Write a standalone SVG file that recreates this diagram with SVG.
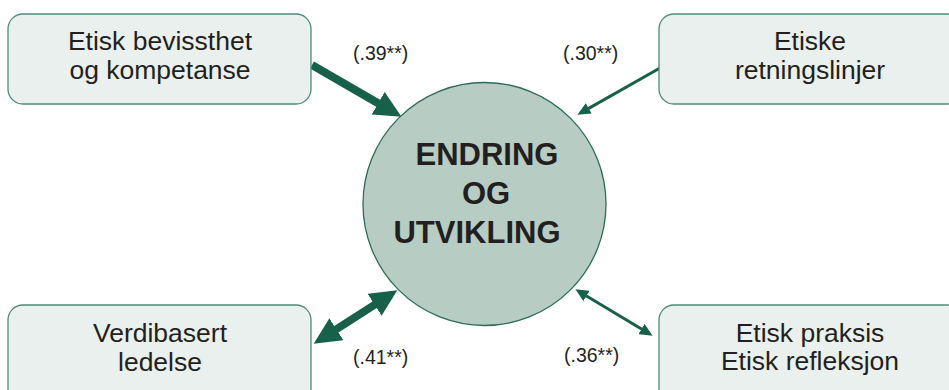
<svg xmlns="http://www.w3.org/2000/svg" width="949" height="390" viewBox="0 0 949 390">
  <style>
    .box { fill: #e9f0ed; stroke: #4f8b76; stroke-width: 1.3; }
    .hub { fill: #b7ccc3; stroke: #2c6c58; stroke-width: 1.3; }
    .lbl { font-family: "Liberation Sans", Arial, sans-serif; font-size: 26.5px; fill: #231f20; text-anchor: middle; }
    .hubtxt { font-family: "Liberation Sans", Arial, sans-serif; font-size: 31px; font-weight: bold; fill: #231f20; text-anchor: middle; }
    .coef { font-family: "Liberation Sans", Arial, sans-serif; font-size: 19.5px; fill: #231f20; }
    .thick { stroke: #17604a; stroke-width: 8; fill: none; }
    .thin { stroke: #17604a; stroke-width: 3; fill: none; }
  </style>
  <defs>
    <!-- heads start at the line end and point outward -->
    <marker id="headBig" markerUnits="userSpaceOnUse" markerWidth="27" markerHeight="26" viewBox="0 0 27 26" refX="0.5" refY="13" orient="auto-start-reverse">
      <path d="M0,0 L27,13 L0,26 z" fill="#17604a"/>
    </marker>
    <marker id="headSmall" markerUnits="userSpaceOnUse" markerWidth="13" markerHeight="12" viewBox="0 0 13 12" refX="0.5" refY="6" orient="auto-start-reverse">
      <path d="M0,0 L13,6 L0,12 z" fill="#17604a"/>
    </marker>
  </defs>

  <!-- connectors -->
  <g id="connectors">
    <line class="thick" x1="312" y1="65" x2="378.6" y2="103.5" marker-end="url(#headBig)"/>
    <line class="thin" x1="660" y1="68" x2="588.3" y2="108.6" marker-end="url(#headSmall)"/>
    <line class="thick" x1="336" y1="329.5" x2="375" y2="304.5" marker-start="url(#headBig)" marker-end="url(#headBig)"/>
    <line class="thin" x1="586.1" y1="295.7" x2="641.9" y2="329.3" marker-start="url(#headSmall)" marker-end="url(#headSmall)"/>
  </g>

  <!-- coefficient labels -->
  <g id="coefficients">
    <text class="coef" x="353" y="60">(.39**)</text>
    <text class="coef" x="563" y="60">(.30**)</text>
    <text class="coef" x="353" y="364">(.41**)</text>
    <text class="coef" x="564" y="362">(.36**)</text>
  </g>

  <g id="node-bevissthet">
    <rect class="box" x="8" y="14" width="303" height="90" rx="15"/>
    <text class="lbl" x="160" y="50">Etisk bevissthet</text>
    <text class="lbl" x="160" y="79">og kompetanse</text>
  </g>

  <g id="node-retningslinjer">
    <rect class="box" x="659" y="14" width="303" height="90" rx="15"/>
    <text class="lbl" x="810" y="50">Etiske</text>
    <text class="lbl" x="810" y="79">retningslinjer</text>
  </g>

  <g id="node-ledelse">
    <rect class="box" x="8" y="305" width="303" height="100" rx="15"/>
    <text class="lbl" x="160" y="342">Verdibasert</text>
    <text class="lbl" x="160" y="371">ledelse</text>
  </g>

  <g id="node-praksis">
    <rect class="box" x="659" y="305" width="303" height="100" rx="15"/>
    <text class="lbl" x="810" y="342">Etisk praksis</text>
    <text class="lbl" x="810" y="370">Etisk refleksjon</text>
  </g>

  <g id="node-endring">
    <circle class="hub" cx="484.5" cy="204" r="121.5"/>
    <text class="hubtxt" x="487" y="165">ENDRING</text>
    <text class="hubtxt" x="486" y="204">OG</text>
    <text class="hubtxt" x="477" y="243">UTVIKLING</text>
  </g>
</svg>
